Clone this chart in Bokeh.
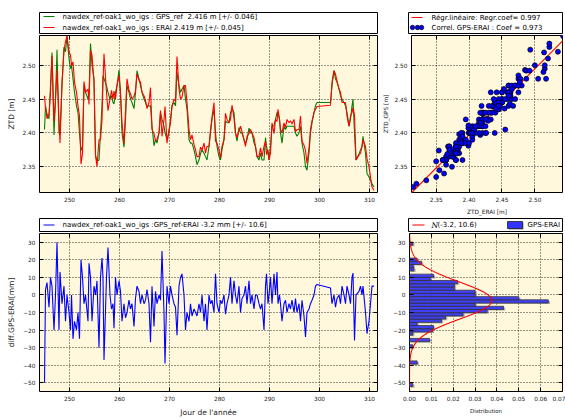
import numpy as np
from bokeh.plotting import figure
from bokeh.models import (Range1d, FixedTicker, PrintfTickFormatter, Label, CustomJSTickFormatter,
                          LinearAxis)
from bokeh.layouts import column, row
from bokeh.embed import file_html
from bokeh.resources import INLINE

# ---------------- data ----------------
days = [245.0, 245.2, 245.5, 245.9, 246.2, 246.5, 246.9, 247.2, 247.5, 247.9,
        248.1, 248.5, 248.9, 249.2, 249.5, 249.9, 250.2, 250.4, 250.7, 251.0,
        251.4, 251.7, 252.0, 252.3, 252.6, 252.9, 253.2, 253.7, 253.9, 254.2,
        254.5, 254.9, 255.2, 255.5, 255.9, 256.2, 256.5, 256.7, 256.9, 257.4,
        257.7, 258.1, 258.4, 258.7, 258.9, 259.2, 259.5, 259.9, 260.2, 260.5,
        260.9, 261.2, 261.5, 261.9, 262.2, 262.5, 262.9, 263.2, 263.5, 263.9,
        264.2, 264.5, 264.9, 265.2, 265.5, 265.9, 266.2, 266.5, 266.9, 267.2,
        267.5, 267.9, 268.2, 268.5, 268.9, 269.1, 269.5, 269.9, 270.2, 270.5,
        270.9, 271.2, 271.5, 271.9, 272.2, 272.5, 272.9, 273.2, 273.5, 273.9,
        274.2, 274.5, 274.9, 275.2, 275.5, 275.9, 276.2, 276.5, 276.9, 277.2,
        277.5, 277.9, 278.2, 278.5, 278.9, 279.2, 279.5, 279.9, 280.2, 280.5,
        280.9, 281.2, 281.5, 281.9, 282.2, 282.5, 282.9, 283.2, 283.5, 283.9,
        284.2, 284.5, 284.9, 285.2, 285.5, 285.9, 286.2, 286.5, 286.9, 287.2,
        287.5, 287.9, 288.2, 288.5, 288.9, 289.2, 289.4, 289.7, 289.9, 290.2,
        290.5, 290.9, 291.2, 291.5, 291.7, 292.0, 292.2, 292.5, 292.9, 293.2,
        293.5, 293.9, 294.2, 294.5, 294.9, 295.2, 295.5, 295.9, 296.2, 296.5,
        296.9, 297.2, 297.5, 297.9, 298.2, 298.5, 298.9, 299.2, 299.5, 302.2,
        302.5, 302.9, 303.2, 303.5, 303.9, 304.2, 304.5, 304.9, 305.2, 305.5,
        305.9, 306.2, 306.5, 306.7, 307.0, 307.3, 307.9, 308.2, 308.5, 308.7,
        309.2, 309.5, 309.9, 310.2, 310.5, 310.9]

gps_ztd = [2.405, 2.440, 2.428, 2.421, 2.470, 2.519, 2.397, 2.450, 2.523, 2.400,
           2.398, 2.470, 2.527, 2.520, 2.543, 2.510, 2.495, 2.500, 2.480, 2.460,
           2.440, 2.430, 2.400, 2.374, 2.380, 2.471, 2.460, 2.450, 2.460, 2.532,
           2.500, 2.480, 2.367, 2.358, 2.360, 2.400, 2.440, 2.485, 2.480, 2.470,
           2.460, 2.450, 2.455, 2.445, 2.443, 2.460, 2.470, 2.493, 2.460, 2.400,
           2.379, 2.420, 2.470, 2.460, 2.450, 2.445, 2.436, 2.460, 2.492, 2.480,
           2.470, 2.460, 2.450, 2.445, 2.439, 2.440, 2.440, 2.410, 2.381, 2.390,
           2.385, 2.400, 2.430, 2.420, 2.410, 2.400, 2.390, 2.400, 2.420, 2.440,
           2.445, 2.440, 2.490, 2.470, 2.460, 2.465, 2.470, 2.450, 2.435, 2.390,
           2.385, 2.385, 2.375, 2.365, 2.353, 2.360, 2.369, 2.375, 2.370, 2.365,
           2.360, 2.380, 2.400, 2.420, 2.435, 2.400, 2.380, 2.365, 2.360, 2.375,
           2.390, 2.418, 2.415, 2.415, 2.430, 2.436, 2.430, 2.400, 2.388, 2.408,
           2.400, 2.400, 2.390, 2.385, 2.390, 2.407, 2.400, 2.400, 2.385, 2.380,
           2.365, 2.360, 2.370, 2.360, 2.360, 2.393, 2.380, 2.370, 2.360, 2.380,
           2.410, 2.411, 2.420, 2.430, 2.430, 2.420, 2.400, 2.385, 2.410, 2.405,
           2.410, 2.410, 2.410, 2.410, 2.410, 2.400, 2.395, 2.400, 2.410, 2.385,
           2.370, 2.350, 2.345, 2.370, 2.400, 2.415, 2.430, 2.440, 2.445, 2.445,
           2.470, 2.492, 2.480, 2.475, 2.465, 2.455, 2.450, 2.445, 2.440, 2.430,
           2.410, 2.420, 2.440, 2.450, 2.400, 2.360, 2.369, 2.375, 2.380, 2.395,
           2.370, 2.340, 2.335, 2.330, 2.325, 2.320]

diff_mm = [-50, 3, 7, -7, 10, 5, -20, 0, 30, -20,
           13, -5, 5, -15, 0, -10, -20, 0, -25, -15,
           -20, -10, -25, 20, 10, -5, 0, -15, 18, 10,
           -15, 5, 0, 8, -30, 10, 21, 10, -37, 10,
           27, 0, -8, -5, -19, 10, 0, 8, 2, -15,
           -5, -13, -10, -3, -8, -5, -18, -2, 5, 2,
           -5, 0, -5, -3, 3, -5, -27, 5, -18, 2,
           -5, 0, -3, 25, -10, -39, 5, -5, 5, 0,
           -5, -7, -23, 5, 10, 12, 0, -20, -10, -15,
           -5, -12, -8, -10, -12, -5, -10, 0, -15, -5,
           -20, 0, -5, -3, -10, 12, -5, -10, -3, -5,
           0, -11, -5, 0, 10, -5, 8, 0, -5, 5,
           -10, -2, 0, 5, -5, 8, -5, 0, -8, 0,
           0, -5, -8, -5, -20, 5, 12, -5, 0, 10,
           -5, 12, 0, 13, -5, 0, -5, -15, -5, -3,
           -10, -5, -8, -3, -10, -2, -10, -5, -15, -3,
           -12, -24, -10, -8, -5, -3, 0, 5, 6, 4,
           -5, 0, -7, -2, 0, -5, 5, 0, -5, 5,
           0, -5, 10, 12.5, -26, 0, 2, 5, 0, 5,
           -10, -22, -15, -5, 5, 5]

# histogram of GPS-ERAI (bins bottom -> top)
hist_start = -52.2
hist_step = 1.83
hist_density = [0.0015, 0, 0, 0, 0, 0, 0, 0.0035, 0, 0,
                0, 0, 0.0015, 0, 0.0092, 0, 0.0015, 0.0105, 0.011, 0.0035,
                0.0146, 0.0165, 0.0245, 0.0355, 0.043, 0.030, 0.0635, 0.050, 0.030, 0.030,
                0.0205, 0.0205, 0.022, 0.0095, 0.011, 0, 0.002, 0.0017, 0.0055, 0.0035,
                0, 0, 0, 0, 0.0015]

mean_diff, std_diff = -3.2, 10.6
gps_mean, gps_std = 2.416, 0.046
erai_mean, erai_std = 2.419, 0.045
regr_coef, corr_coef = 0.997, 0.973
station = "nawdex_ref-oak1_wo_igs"

day_ticks = [250, 260, 270, 280, 290, 300, 310]
ztd_ticks = [2.35, 2.40, 2.45, 2.50]
diff_ticks = [-50, -40, -30, -20, -10, 0, 10, 20, 30]
dist_ticks = [0.0, 0.01, 0.02, 0.03, 0.04, 0.05, 0.06, 0.07]

# ---------------- derived ----------------
d = np.array(days)
g = np.array(gps_ztd)
dm = np.array(diff_mm, dtype=float)
e = g - dm / 1000.0
edges = hist_start + hist_step * np.arange(len(hist_density) + 1)

FONT = "DejaVu Sans"
BG = "#FFF8DC"
MINUS = CustomJSTickFormatter(code="return tick.toFixed(0).replace('-', '\u2212');")


def style(p, xticks, yticks, xfmt, yfmt, lab_size="7.5px"):
    p.background_fill_color = BG
    p.border_fill_color = "white"
    p.outline_line_color = "black"
    p.outline_line_width = 1
    for ax in list(p.xaxis) + list(p.yaxis):
        ax.axis_line_color = None
        ax.major_tick_in = 4
        ax.major_tick_out = 0
        ax.major_tick_line_color = "black"
        ax.minor_tick_line_color = None
        ax.major_label_text_font = FONT
        ax.major_label_text_font_size = "5.8px"
        ax.major_label_text_color = "#222222"
        ax.major_label_standoff = 4
        ax.axis_label_text_font = FONT
        ax.axis_label_text_font_size = lab_size
        ax.axis_label_text_font_style = "normal"
        ax.axis_label_text_color = "#222222"
        ax.axis_label_standoff = 4
    p.xaxis.ticker = FixedTicker(ticks=xticks)
    p.yaxis.ticker = FixedTicker(ticks=yticks)
    p.xaxis.formatter = xfmt
    p.yaxis.formatter = yfmt
    p.grid.grid_line_color = "black"
    p.grid.grid_line_dash = "1 2"
    p.grid.grid_line_alpha = 0.8
    # tick marks on the top and right edges too, without labels
    for side, ticks in (("above", xticks), ("right", yticks)):
        ax = LinearAxis(ticker=FixedTicker(ticks=ticks),
                        formatter=CustomJSTickFormatter(code="return '';"))
        ax.axis_line_color = None
        ax.major_tick_in = 4
        ax.major_tick_out = 0
        ax.minor_tick_line_color = None
        ax.major_label_text_font_size = "0px"
        ax.major_label_standoff = 0
        p.add_layout(ax, side)


def legend_fig(w, h, mbl, mbr, mbt, mbb):
    fw, fh = w - mbl - mbr, h - mbt - mbb
    p = figure(width=w, height=h, x_range=Range1d(0, fw), y_range=Range1d(0, fh),
               x_axis_type=None, y_axis_type=None, toolbar_location=None,
               output_backend="svg", min_border_left=mbl, min_border_right=mbr,
               min_border_top=mbt, min_border_bottom=mbb)
    p.outline_line_color = "black"
    p.outline_line_width = 1
    p.background_fill_color = "white"
    p.border_fill_color = "white"
    return p, fw, fh


def add_label(p, x, y, text, size, font=FONT, style="normal"):
    p.add_layout(Label(x=x, y=y, text=text, text_font=font, text_font_size=size,
                       text_font_style=style, text_baseline="middle", text_color="black"))


LW, RW = 379, 186

# ---------------- top-left legend ----------------
lg1, fw, fh = legend_fig(LW, 34, 39, 2, 12, 1)
lg1.line([4, 15], [fh - 4, fh - 4], line_color="green", line_width=1.2)
lg1.line([4, 15], [fh - 15, fh - 15], line_color="red", line_width=1.2)
add_label(lg1, 23, fh - 4, f"{station} : GPS_ref \u00a0{gps_mean:.3f} m [+/- {gps_std:.3f}]", "7px")
add_label(lg1, 23, fh - 15, f"{station} : ERAI {erai_mean:.3f} m [+/- {erai_std:.3f}]", "7px")

# ---------------- top-right legend ----------------
lg2, fw, fh = legend_fig(RW, 34, 29, 3, 12, 1)
lg2.line([3, 14], [fh - 5, fh - 5], line_color="red", line_width=1.2)
lg2.scatter([4, 9, 13], [fh - 15] * 3, size=4.5, fill_color="blue", line_color="black", line_width=0.7)
add_label(lg2, 23, fh - 5, f"R\u00e9gr.lin\u00e9aire: Regr.coef= {regr_coef:.3f}", "7px")
add_label(lg2, 23, fh - 15, f"Correl. GPS-ERAI : Coef = {corr_coef:.3f}", "7px")

# ---------------- top-left ZTD time series ----------------
p1 = figure(width=LW, height=183, x_range=Range1d(244, 311.6), y_range=Range1d(2.312, 2.544),
            toolbar_location=None, output_backend="svg",
            min_border_left=39, min_border_right=2, min_border_top=1, min_border_bottom=18)
p1.line(d, g, line_color="green", line_width=1.1)
p1.line(d, e, line_color="red", line_width=1.1)
p1.yaxis.axis_label = "ZTD [m]"
style(p1, day_ticks, ztd_ticks, PrintfTickFormatter(format="%d"), PrintfTickFormatter(format="%.2f"))

# ---------------- top-right scatter ----------------
p2 = figure(width=RW, height=183, x_range=Range1d(2.3125, 2.542), y_range=Range1d(2.312, 2.544),
            toolbar_location=None, output_backend="svg",
            min_border_left=30, min_border_right=3, min_border_top=1, min_border_bottom=18)
coef = np.polyfit(e, g, 1)
xr = np.array([2.30, 2.56])
p2.line(xr, coef[0] * xr + coef[1], line_color="red", line_width=1.1)
p2.scatter(e, g, size=5, fill_color="blue", line_color="black", line_width=0.7)
p2.xaxis.axis_label = "ZTD_ERAI [m]"
p2.yaxis.axis_label = "ZTD_GPS [m]"
style(p2, ztd_ticks, ztd_ticks, PrintfTickFormatter(format="%.2f"), PrintfTickFormatter(format="%.2f"),
      lab_size="5.8px")
p2.xaxis[0].axis_label_standoff = 1
p2.yaxis[0].axis_label_standoff = 3

# ---------------- bottom-left legend ----------------
lg3, fw, fh = legend_fig(LW, 15, 39, 2, 1, 1)
lg3.line([4, 15], [fh / 2, fh / 2], line_color="blue", line_width=1.2)
add_label(lg3, 23, fh / 2, f"{station} :GPS_ref-ERAI {mean_diff:.1f} mm [+/- {std_diff:.1f}]", "7px")

# ---------------- bottom-right legend ----------------
lg4, fw, fh = legend_fig(RW, 15, 29, 3, 1, 1)
lg4.line([4, 16], [fh / 2, fh / 2], line_color="red", line_width=1.2)
add_label(lg4, 23, fh / 2, "N", "7.5px", font="DejaVu Serif", style="italic")
add_label(lg4, 29, fh / 2, f"({mean_diff:.1f}, {std_diff:.1f})", "7px")
lg4.quad(left=[100], right=[115], bottom=[2], top=[9], fill_color="#888888", line_color=None)
lg4.quad(left=[99], right=[114], bottom=[3], top=[10], fill_color="#3333ff", line_color="#222222",
         line_width=0.8)
add_label(lg4, 119, fh / 2, "GPS-ERAI", "7px")

# ---------------- bottom-left diff series ----------------
p3 = figure(width=LW, height=187, x_range=Range1d(244, 311.6), y_range=Range1d(-55, 35),
            toolbar_location=None, output_backend="svg",
            min_border_left=39, min_border_right=2, min_border_top=1, min_border_bottom=23)
p3.line(d, dm, line_color="blue", line_width=1.1)
p3.yaxis.axis_label = "diff.GPS-ERAI[mm]"
p3.xaxis.axis_label = "Jour de l'ann\u00e9e"
style(p3, day_ticks, diff_ticks, PrintfTickFormatter(format="%d"), MINUS)

# ---------------- bottom-right histogram ----------------
p4 = figure(width=RW, height=187, x_range=Range1d(0, 0.07), y_range=Range1d(-55, 35),
            toolbar_location=None, output_backend="svg",
            min_border_left=30, min_border_right=3, min_border_top=1, min_border_bottom=23)
hd = np.array(hist_density)
nz = hd > 0
# soft grey drop shadow under each bar
p4.quad(left=0.0006, right=hd[nz] + 0.0008, bottom=edges[:-1][nz] - 0.6, top=edges[1:][nz] - 0.6,
        fill_color="#777777", fill_alpha=0.55, line_color=None)
p4.quad(left=0, right=hd[nz], bottom=edges[:-1][nz], top=edges[1:][nz], fill_color="#3333ff",
        fill_alpha=0.9, line_color="#333333", line_width=0.8)
yy = np.linspace(-55, 35, 400)
pdf = np.exp(-0.5 * ((yy - mean_diff) / std_diff) ** 2) / (std_diff * np.sqrt(2 * np.pi))
p4.line(pdf, yy, line_color="red", line_width=1.1)
p4.xaxis.axis_label = "Distribution"
style(p4, dist_ticks, diff_ticks, PrintfTickFormatter(format="%.2f"), MINUS, lab_size="5.5px")

layout = column(row(lg1, lg2, spacing=0), row(p1, p2, spacing=0),
                row(lg3, lg4, spacing=0), row(p3, p4, spacing=0), spacing=0)

open("out.html", "w").write(file_html(layout, INLINE))
